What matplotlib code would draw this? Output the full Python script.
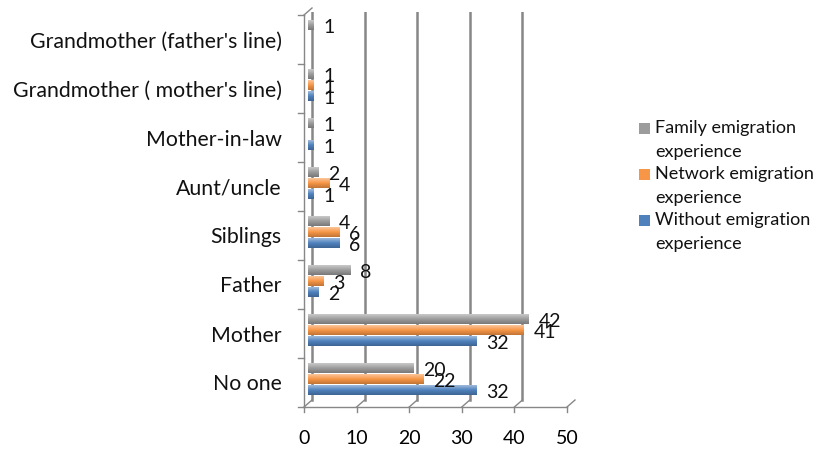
import numpy as np
import matplotlib.pyplot as plt
import matplotlib.transforms as mtransforms
from matplotlib.patches import Rectangle

plt.rcParams['font.family'] = ['Lato', 'DejaVu Sans']

# data, bottom to top
categories = ["No one", "Mother", "Father", "Siblings", "Aunt/uncle",
              "Mother-in-law", "Grandmother ( mother's line)",
              "Grandmother (father's line)"]
family = [20, 42, 8, 4, 2, 1, 1, 1]
network = [22, 41, 3, 6, 4, 0, 1, 0]
without = [32, 32, 2, 6, 1, 1, 1, 0]

series = [
    ("Family emigration\nexperience", family, "#9c9c9c", 0.225),
    ("Network emigration\nexperience", network, "#f79646", 0.0),
    ("Without emigration\nexperience", without, "#4f81bd", -0.225),
]

fig = plt.figure(figsize=(8.16, 4.5), dpi=100)
ax = fig.add_axes([308 / 816, 1 - 403.5 / 450, 263 / 816, 392 / 450])

xmax = 50
ncat = len(categories)
y = np.arange(ncat)
h = 0.2
# depth of the fake 3d box in data units (front = -, back = +)
dx = xmax * 8 / 263 / 2
dy = ncat * 7 / 392 / 2
axcol = "#878787"


def shade(c):
    c = np.array(plt.matplotlib.colors.to_rgb(c))
    light = c + (1 - c) * 0.45
    dark = c * 0.78
    t = np.linspace(0, 1, 20)[:, None]
    top = light * (1 - t[:10] * 2) + c * (t[:10] * 2)
    bot = c * (1 - (t[10:] - 0.5) * 2) + dark * ((t[10:] - 0.5) * 2)
    return np.vstack([top, bot])[:, None, :]


# back wall grid
for gx in range(0, xmax + 1, 10):
    ax.plot([gx + dx, gx + dx], [-0.5 + dy, ncat - 0.5 + dy], color=axcol, lw=1.8, zorder=1)
    # floor diagonals + front ticks
    ax.plot([gx - dx, gx + dx], [-0.5 - dy, -0.5 + dy], color=axcol, lw=1, zorder=1, clip_on=False)
    ax.plot([gx - dx, gx - dx], [-0.5 - dy, -0.5 - dy - 0.1], color=axcol, lw=1, clip_on=False)

# front floor line and left wall
ax.plot([-dx, xmax - dx], [-0.5 - dy, -0.5 - dy], color=axcol, lw=1, clip_on=False)
ax.plot([-dx, -dx], [-0.5 - dy, ncat - 0.5 - dy], color=axcol, lw=1, clip_on=False)
ax.plot([-dx, dx], [ncat - 0.5 - dy, ncat - 0.5 + dy], color=axcol, lw=1, clip_on=False)
for b in np.arange(-0.5, ncat, 1.0):
    ax.plot([-dx - 1.2, -dx], [b - dy, b - dy], color=axcol, lw=1, clip_on=False)

# bars with a cylinder-like shading
for label, vals, col, off in series:
    img = shade(col)
    for yi, v in zip(y, vals):
        if v <= 0:
            continue
        ax.imshow(img, extent=[0, v, yi + off - h / 2, yi + off + h / 2],
                  aspect="auto", origin="upper", zorder=3, interpolation="bilinear")
        ax.annotate(str(v), (v, yi + off), xytext=(7, -2), textcoords="offset points",
                    ha="left", va="center", fontsize=14, color="#111111", zorder=4)

ax.set_xlim(0, xmax)
ax.set_ylim(-0.5, ncat - 0.5)
for s in ax.spines.values():
    s.set_visible(False)

ax.set_xticks(range(0, xmax + 1, 10))
ax.set_yticks(y, categories)
ax.tick_params(axis="x", length=0, pad=19, labelsize=14)
ax.tick_params(axis="y", length=0, pad=19, labelsize=15.3, labelcolor="#111111")
shift_x = mtransforms.ScaledTranslation(-4 / 100, 0, fig.dpi_scale_trans)
shift_y = mtransforms.ScaledTranslation(0, -3.5 / 100, fig.dpi_scale_trans)
for t in ax.get_xticklabels():
    t.set_transform(t.get_transform() + shift_x)
for t in ax.get_yticklabels():
    t.set_transform(t.get_transform() + shift_y)

# legend, square next to the first line of each entry
leg_x, leg_y, step = 639, 128.5, 46
for i, (label, _, col, _) in enumerate(series):
    yc = leg_y + i * step
    fig.add_artist(Rectangle((leg_x / 816, 1 - (yc + 5.5) / 450), 11 / 816, 11 / 450,
                             transform=fig.transFigure, facecolor=col, edgecolor="none"))
    fig.text((leg_x + 16) / 816, 1 - (yc - 8) / 450, label, ha="left", va="top",
             fontsize=13, linespacing=1.58, color="#111111")

fig.savefig("out.png", dpi=100)
